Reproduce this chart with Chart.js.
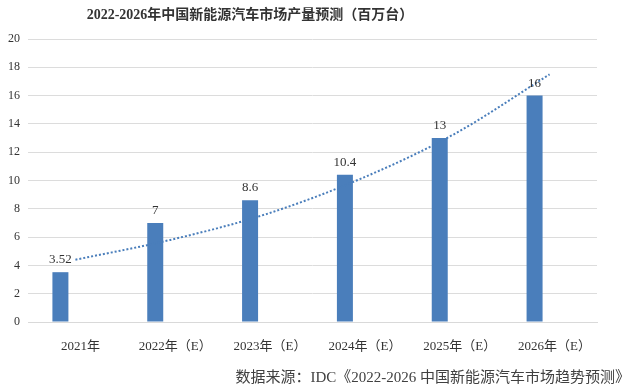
<!DOCTYPE html>
<html>
<head>
<meta charset="utf-8">
<script src="https://cdn.jsdelivr.net/npm/chart.js@4"></script>
<style>
  html, body { margin: 0; padding: 0; background: #fff; }
  #wrap { position: relative; width: 636px; height: 387px; }
  #titulo {
    position: absolute; left: 0; width: 500px; top: 3px; text-align: center;
    font: bold 14px "Liberation Serif", "Noto Sans CJK SC", serif; color: #333;
  }
  #fuente {
    position: absolute; right: 6px; top: 365px;
    font: 15px "Liberation Serif", "Noto Sans CJK SC", serif; color: #404040;
  }
</style>
</head>
<body>
<div id="wrap">
  <canvas id="graficoProduccion" width="636" height="387"></canvas>
  <div id="titulo">2022-2026年中国新能源汽车市场产量预测（百万台）</div>
  <div id="fuente">数据来源：IDC《2022-2026 中国新能源汽车市场趋势预测》</div>
</div>
<script>
const anios = ['2021年', '2022年（E）', '2023年（E）', '2024年（E）', '2025年（E）', '2026年（E）'];
const produccion = [3.52, 7, 8.6, 10.4, 13, 16];
const etiquetas = ['3.52', '7', '8.6', '10.4', '13', '16'];
// línea de tendencia
const tendencia = [4.4, 5.8, 7.6, 10.1, 13.3, 17.5];

const fuenteSerif = '"Liberation Serif", "Noto Sans CJK SC", serif';

// etiquetas de valor sobre cada barra
const etiquetasBarras = {
  id: 'etiquetasBarras',
  afterDatasetsDraw(chart) {
    const meta = chart.getDatasetMeta(0);
    const ctx = chart.ctx;
    ctx.save();
    ctx.font = '13px ' + fuenteSerif;
    ctx.fillStyle = '#333';
    ctx.textAlign = 'center';
    ctx.textBaseline = 'bottom';
    meta.data.forEach((bar, i) => {
      ctx.fillText(etiquetas[i], bar.x, bar.y - 6);
    });
    ctx.restore();
  }
};

new Chart(document.getElementById('graficoProduccion'), {
  type: 'bar',
  data: {
    labels: anios,
    datasets: [
      {
        data: produccion,
        backgroundColor: '#4a7ebb',
        categoryPercentage: 0.633,
        barPercentage: 0.533,
        order: 2
      },
      {
        // serie vacía para desplazar las barras como en el original
        data: [null, null, null, null, null, null],
        backgroundColor: 'transparent',
        categoryPercentage: 0.633,
        barPercentage: 0.533,
        order: 3
      },
      {
        type: 'line',
        data: tendencia,
        borderColor: '#4a7ebb',
        borderWidth: 2,
        borderDash: [2, 2],
        pointRadius: 0,
        fill: false,
        cubicInterpolationMode: 'monotone',
        order: 1
      }
    ]
  },
  options: {
    responsive: false,
    animation: false,
    layout: { padding: { top: 39, right: 39, left: 0, bottom: 0 } },
    plugins: {
      legend: { display: false },
      title: { display: false },
      tooltip: { enabled: false }
    },
    scales: {
      x: {
        grid: { display: false },
        border: { display: true, color: '#d9d9d9' },
        ticks: {
          color: '#333',
          padding: 9,
          labelOffset: 5,
          maxRotation: 0,
          autoSkip: false,
          font: { family: fuenteSerif, size: 13 }
        },
        afterFit(scale) { scale.height = 65; }
      },
      y: {
        min: 0,
        max: 20,
        ticks: {
          stepSize: 2,
          color: '#333',
          padding: 8,
          font: { family: fuenteSerif, size: 12 }
        },
        grid: { color: '#dcdcdc', drawTicks: false },
        border: { display: false },
        afterFit(scale) { scale.width = 28; }
      }
    }
  },
  plugins: [etiquetasBarras]
});
</script>
</body>
</html>
